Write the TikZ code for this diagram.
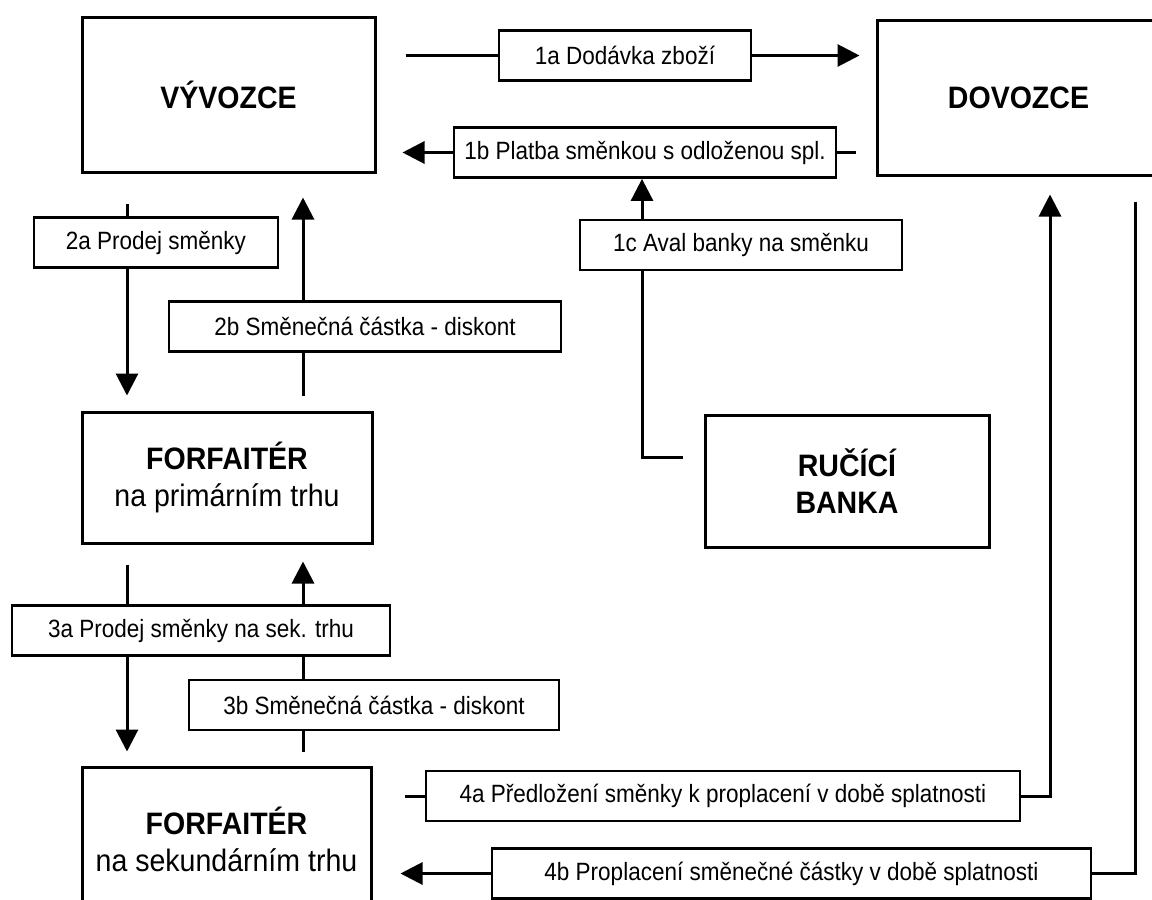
\documentclass[tikz,border=0pt]{standalone}
\usepackage{fontspec}
\setmainfont{Liberation Sans}
\newfontfamily\labelfont[FakeStretch=0.9]{Liberation Sans}
\newfontfamily\partyfont[FakeStretch=0.92]{Liberation Sans}
\usetikzlibrary{arrows.meta,backgrounds}

\begin{document}
\begin{tikzpicture}[x=1pt, y=-1pt,
		party/.style={draw, line width=3pt, align=center, inner sep=0pt, font=\partyfont\fontsize{31}{37}\selectfont},
		flowbox/.style={draw, fill=white, line width=2.8pt, minimum height=50pt, inner sep=0pt, font=\labelfont\fontsize{25}{30}\selectfont},
		flow/.style={draw, line width=3pt, -{Triangle[length=22pt, width=22pt]}}]
		\useasboundingbox (0,0) rectangle (1152,900);
		% Nodes
		\node[party, minimum width=293pt, minimum height=155pt] (vyvozce) at (228.5,94.5) {\bfseries VÝVOZCE};
		\node[party, minimum width=283pt, minimum height=155pt] (dovozce) at (1018.5,97.5) {\bfseries DOVOZCE};
		\node[party, minimum width=290pt, minimum height=131pt] (fprim) at (227,477.5) {{\bfseries FORFAITÉR}\\na primárním trhu};
		\node[party, minimum width=289pt, minimum height=145pt] (fsek) at (226.5,839.5) {{\bfseries FORFAITÉR}\\na sekundárním trhu};
		\node[party, minimum width=284pt, minimum height=132pt] (banka) at (847,481) {{\bfseries RUČÍCÍ}\\{\bfseries BANKA}};
		% Labels
		\node[flowbox, minimum width=252pt] (l1a) at (625,55.5) {1a Dodávka zboží};
		\node[flowbox, minimum width=382pt] (l1b) at (645,152.5) {1b Platba směnkou s odloženou spl.};
		\node[flowbox, minimum width=322pt] (l1c) at (741,245) {1c Aval banky na směnku};
		\node[flowbox, minimum width=244pt] (l2a) at (156,242.5) {2a Prodej směnky};
		\node[flowbox, minimum width=392pt] (l2b) at (365,326.5) {2b Směnečná částka - diskont};
		\node[flowbox, minimum width=378pt] (l3a) at (201,630.5) {3a Prodej směnky na sek. trhu};
		\node[flowbox, minimum width=370pt] (l3b) at (374,705) {3b Směnečná částka - diskont};
		\node[flowbox, minimum width=594pt] (l4a) at (723,796) {4a Předložení směnky k proplacení v době splatnosti};
		\node[flowbox, minimum width=599pt] (l4b) at (791.5,873.5) {4b Proplacení směnečné částky v době splatnosti};
		% Bends
		\coordinate (k1c) at (642,457);
		\coordinate (kl) at (127,0);
		\coordinate (kr) at (303,0);
		\coordinate (k4a) at (1050,0);
		\coordinate (k4b) at (1135,0);
		% Edges
		\begin{scope}[on background layer]
		\draw[flow, shorten <=29pt, shorten >=16pt] (vyvozce.east |- l1a) -- (dovozce.west |- l1a);
		\draw[flow, shorten <=20pt, shorten >=26pt] (dovozce.west |- l1b) -- (vyvozce.east |- l1b);
		\draw[flow, shorten <=21pt] (banka.west |- k1c) -- (k1c) -- (k1c |- l1b.south);
		\draw[flow, shorten <=30pt, shorten >=15pt] (vyvozce.south -| kl) -- (fprim.north -| kl);
		\draw[flow, shorten <=15pt, shorten >=24pt] (fprim.north -| kr) -- (vyvozce.south -| kr);
		\draw[flow, shorten <=20pt, shorten >=14pt] (fprim.south -| kl) -- (fsek.north -| kl);
		\draw[flow, shorten <=14pt, shorten >=17pt] (fsek.north -| kr) -- (fprim.south -| kr);
		\draw[flow, shorten <=32pt, shorten >=18pt] (fsek.east |- l4a) -| (dovozce.south -| k4a);
		\draw[flow, shorten <=25pt, shorten >=28pt] (dovozce.south -| k4b) |- (fsek.east |- l4b);
		\end{scope}
	\end{tikzpicture}
\end{document}
